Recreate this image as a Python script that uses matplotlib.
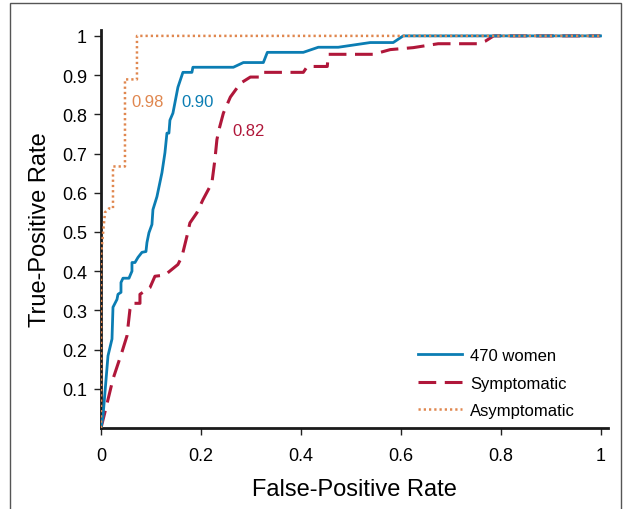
import numpy as np
import matplotlib.pyplot as plt
from matplotlib.patches import Rectangle

plt.rcParams['font.family'] = ['Liberation Sans', 'DejaVu Sans']

# ROC curves (false-positive rate, true-positive rate)
all_fpr = [0, 0.004, 0.014, 0.022, 0.024, 0.032, 0.034, 0.04, 0.04, 0.044, 0.056, 0.062, 0.062,
           0.068, 0.074, 0.082, 0.09, 0.092, 0.096, 0.102, 0.104, 0.112, 0.122, 0.128, 0.132,
           0.136, 0.138, 0.144, 0.154, 0.164, 0.182, 0.184, 0.265, 0.285, 0.325, 0.333,
           0.405, 0.435, 0.475, 0.539, 0.585, 0.605, 1.0]
all_tpr = [0, 0.03, 0.184, 0.227, 0.308, 0.328, 0.341, 0.346, 0.371, 0.382, 0.382, 0.40, 0.422,
           0.422, 0.435, 0.448, 0.45, 0.473, 0.498, 0.519, 0.557, 0.59, 0.651, 0.702, 0.752,
           0.752, 0.785, 0.803, 0.869, 0.907, 0.907, 0.92, 0.92, 0.932, 0.932, 0.958,
           0.958, 0.971, 0.971, 0.983, 0.983, 1.0, 1.0]

sym_fpr = [0, 0.008, 0.024, 0.042, 0.052, 0.058, 0.062, 0.078, 0.078, 0.098, 0.108, 0.128,
           0.154, 0.162, 0.172, 0.178, 0.192, 0.204, 0.222, 0.228, 0.232, 0.236, 0.245,
           0.259, 0.279, 0.299, 0.319, 0.323, 0.405, 0.413, 0.453, 0.455, 0.545, 0.579,
           0.625, 0.675, 0.755, 0.77, 0.786, 1.0]
sym_tpr = [0, 0.041, 0.125, 0.194, 0.235, 0.303, 0.318, 0.318, 0.341, 0.358, 0.387, 0.39,
           0.417, 0.437, 0.489, 0.523, 0.549, 0.582, 0.625, 0.684, 0.735, 0.76, 0.803,
           0.844, 0.879, 0.895, 0.895, 0.907, 0.907, 0.922, 0.922, 0.953, 0.953, 0.965,
           0.97, 0.98, 0.98, 0.987, 1.0, 1.0]

asym_fpr = [0, 0, 0.008, 0.016, 0.024, 0.024, 0.048, 0.048, 0.072, 0.072, 1.0]
asym_tpr = [0, 0.44, 0.55, 0.56, 0.56, 0.667, 0.667, 0.889, 0.889, 1.0, 1.0]

auc_labels = ['0.90', '0.82', '0.98']
auc_pos = [(0.194, 0.832), (0.295, 0.759), (0.094, 0.832)]

blue = '#0b7db3'
red = '#b0173a'
orange = '#e0874f'

fig = plt.figure(figsize=(6.27, 5.10), dpi=100)
ax = fig.add_axes([101 / 627, 81 / 510, 507 / 627, 398 / 510])

ax.plot(all_fpr, all_tpr, color=blue, lw=2.0, label='470 women', zorder=3)
ax.plot(sym_fpr, sym_tpr, color=red, lw=2.2, ls=(0, (5.8, 2.8)), label='Symptomatic', zorder=2)
ax.plot(asym_fpr, asym_tpr, color=orange, lw=1.8, ls=(0, (0.9, 1.2)), label='Asymptomatic', zorder=4)

for txt, (x, y), c in zip(auc_labels, auc_pos, [blue, red, orange]):
    ax.text(x, y, txt, color=c, fontsize=12, ha='center', va='center')

ax.set_xlim(0, 1.015)
ax.set_ylim(0, 1.015)
ax.set_xticks([0, 0.2, 0.4, 0.6, 0.8, 1])
ax.set_xticklabels(['0', '0.2', '0.4', '0.6', '0.8', '1'])
yt = [0.1, 0.2, 0.3, 0.4, 0.5, 0.6, 0.7, 0.8, 0.9, 1]
ax.set_yticks(yt)
ax.set_yticklabels(['0.1', '0.2', '0.3', '0.4', '0.5', '0.6', '0.7', '0.8', '0.9', '1'])
ax.tick_params(labelsize=13, length=5, width=1, color='#222222')
ax.tick_params(axis='x', pad=9)
ax.tick_params(axis='y', pad=5)
for s in ['top', 'right']:
    ax.spines[s].set_visible(False)
for s in ['left', 'bottom']:
    ax.spines[s].set_linewidth(2)
    ax.spines[s].set_color('#1a1a1a')

ax.set_xlabel('False-Positive Rate', fontsize=17, labelpad=10)
ax.set_ylabel('True-Positive Rate', fontsize=17, labelpad=8)

leg = ax.legend(loc='lower left', bbox_to_anchor=(0.625, 0.025), frameon=False, fontsize=12,
                handlelength=2.65, handletextpad=0.5, labelspacing=0.75,
                borderpad=0, borderaxespad=0)

fig.patches.append(Rectangle((10 / 627, -0.1), 611 / 627, 1.1 - 4 / 510, transform=fig.transFigure,
                             fill=False, edgecolor='#555555', lw=1))

fig.savefig('out.png', dpi=100)
